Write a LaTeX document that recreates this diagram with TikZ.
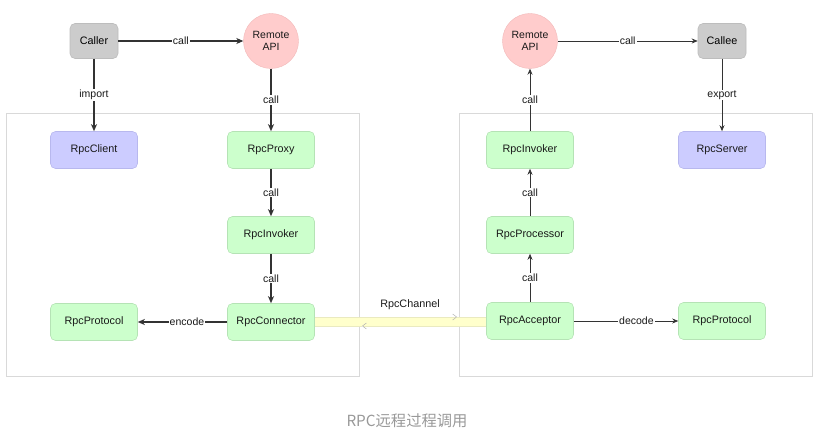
\documentclass[tikz,border=0pt]{standalone}
\usepackage{fontspec}
\setmainfont{Liberation Sans}
\newfontfamily\cjk{Noto Sans CJK SC}
\usetikzlibrary{arrows.meta}
\definecolor{gfill}{HTML}{CCFFCC}
\definecolor{gdraw}{HTML}{B5E3B5}
\definecolor{bfill}{HTML}{CCCCFF}
\definecolor{bdraw}{HTML}{B8B8EE}
\definecolor{kfill}{HTML}{CCCCCC}
\definecolor{kdraw}{HTML}{BDBDBD}
\definecolor{pfill}{HTML}{FFCCCC}
\definecolor{pdraw}{HTML}{F2B8B8}
\definecolor{framec}{HTML}{D9D9D9}
\definecolor{band}{HTML}{FFFFCC}
\definecolor{bandedge}{HTML}{EAEAC0}
\definecolor{linec}{HTML}{333333}
\definecolor{capc}{HTML}{999999}
\begin{document}
\begin{tikzpicture}[x=1pt,y=-1pt,
  every node/.style={font=\fontsize{10.8}{12}\selectfont, text=black!90},
  cbox/.style={draw, rounded corners=5pt, minimum width=87pt, minimum height=37pt, inner sep=0pt, line width=0.6pt},
  green/.style={cbox, fill=gfill, draw=gdraw},
  blue/.style={cbox, fill=bfill, draw=bdraw},
  grey/.style={draw=kdraw, fill=kfill, rounded corners=5pt, minimum width=48pt, minimum height=35pt, inner sep=0pt, line width=0.6pt, text=black},
  api/.style={circle, fill=pfill, draw=pdraw, minimum size=55pt, inner sep=0pt, align=center, font=\fontsize{10.5}{12.5}\selectfont},
  conn/.style={draw=linec, line width=1.1pt, -{Stealth[length=7pt,width=6pt,inset=2pt]}},
  connr/.style={draw=linec, line width=0.7pt, -{Stealth[length=6pt,width=5pt,inset=2pt]}},
  lab/.style={fill=white, inner sep=1pt, font=\fontsize{10.5}{12}\selectfont},
  frame/.style={draw=framec, line width=0.8pt}
]
\useasboundingbox (0,0) rectangle (819,438);
% frames
\draw[frame] (6,113) rectangle (359,376);
\draw[frame] (459,113) rectangle (812,376);

% left side nodes
\node[grey] (caller) at (94,41) {Caller};
\node[api] (apiL) at (271,41) {Remote\\API};
\node[blue] (client) at (94,150) {RpcClient};
\node[green] (proxy) at (271,150) {RpcProxy};
\node[green] (invL) at (271,235) {RpcInvoker};
\node[green] (connector) at (271,322) {RpcConnector};
\node[green] (protL) at (94,322) {RpcProtocol};

% right side nodes
\node[api] (apiR) at (530,41) {Remote\\API};
\node[grey] (callee) at (722,41) {Callee};
\node[green] (invR) at (530,150) {RpcInvoker};
\node[blue] (server) at (722,150) {RpcServer};
\node[green] (proc) at (530,235) {RpcProcessor};
\node[green] (acceptor) at (530,321) {RpcAcceptor};
\node[green] (protR) at (722,321) {RpcProtocol};

% left connectors
\draw[conn] (caller.east) -- node[lab]{call} (apiL.west);
\draw[conn] (caller.south) -- node[lab]{import} (client.north);
\draw[conn] (apiL.south) -- node[lab]{call} (proxy.north);
\draw[conn] (proxy.south) -- node[lab]{call} (invL.north);
\draw[conn] (invL.south) -- node[lab]{call} (connector.north);
\draw[conn] (connector.west) -- node[lab, pos=0.45]{encode} (protL.east);

% right connectors
\draw[connr] (apiR.east) -- node[lab]{call} (callee.west);
\draw[connr] (callee.south) -- node[lab]{export} (server.north);
\draw[connr] (invR.north) -- node[lab]{call} (apiR.south);
\draw[connr] (proc.north) -- node[lab]{call} (invR.south);
\draw[connr] (acceptor.north) -- node[lab]{call} (proc.south);
\draw[connr] (acceptor.east) -- node[lab, pos=0.6]{decode} (protR.west);

% channel band
\coordinate (bandTL) at (connector.east |- 0,317);
\coordinate (bandBR) at (acceptor.west |- 0,326);
\fill[band] (bandTL) rectangle (bandBR);
\coordinate (tipR) at (457,317);
\coordinate (tipL) at (362,326);
\draw[bandedge, line width=0.5pt, -{Straight Barb[length=4pt,width=6pt,color=black!30]}] (bandTL) -- (tipR);
\draw[bandedge, line width=0.5pt] (tipR) -- (bandTL -| bandBR);
\draw[bandedge, line width=0.5pt, -{Straight Barb[length=4pt,width=6pt,color=black!30]}] (bandBR) -- (tipL);
\draw[bandedge, line width=0.5pt] (tipL) -- (bandTL |- bandBR);
\node (chan) at (410,305) {RpcChannel};

% caption
\node[text=capc, font=\cjk\fontsize{15.3}{18}\selectfont] (cap) at (407,421) {RPC远程过程调用};
\end{tikzpicture}
\end{document}
